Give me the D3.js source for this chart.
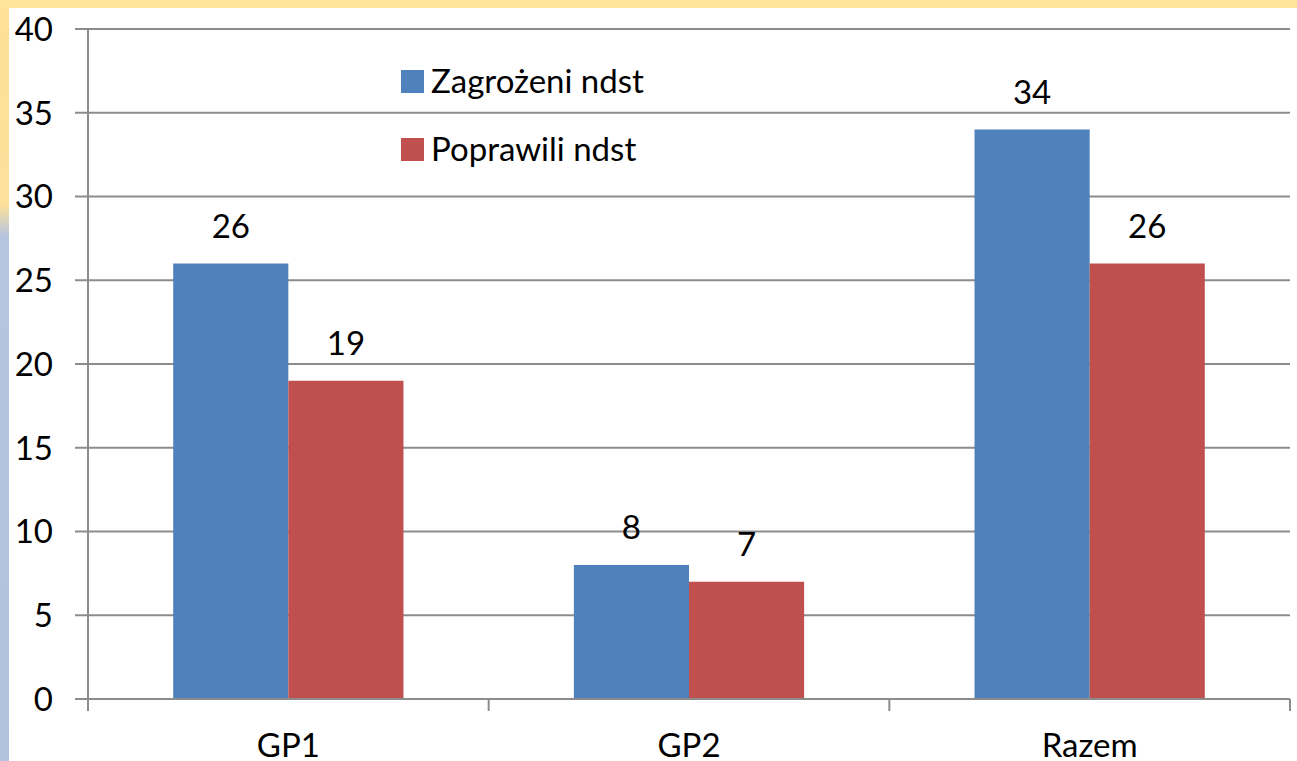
<!DOCTYPE html>
<html><head><meta charset="utf-8">
<script src="https://cdn.jsdelivr.net/npm/d3@7/dist/d3.min.js"></script>
<style>body{margin:0;overflow:hidden;background:#fff}</style>
</head><body>
<svg id="c" width="1297" height="761"></svg>
<script>
const categories = ["GP1", "GP2", "Razem"];
const seriesNames = ["Zagrożeni ndst", "Poprawili ndst"];
const zagrozeni = [26, 8, 34];
const poprawili = [19, 7, 26];
const yTicks = [0, 5, 10, 15, 20, 25, 30, 35, 40];
const colors = ["#4F81BD", "#C0504D"];

const svg = d3.select("#c");
const W = 1297, H = 761;
const font = "Lato, 'Open Sans', sans-serif";
const fs = 33;

// background frame
const defs = svg.append("defs");
const g1 = defs.append("linearGradient").attr("id","lg").attr("x1",0).attr("y1",0).attr("x2",0).attr("y2",1);
g1.append("stop").attr("offset","0%").attr("stop-color","#FEE196");
g1.append("stop").attr("offset","27%").attr("stop-color","#FCE09C");
g1.append("stop").attr("offset","31%").attr("stop-color","#B6C5DF");
g1.append("stop").attr("offset","100%").attr("stop-color","#AFC3DF");
svg.append("rect").attr("x",0).attr("y",0).attr("width",W).attr("height",H).attr("fill","url(#lg)");
svg.append("rect").attr("x",0).attr("y",0).attr("width",W).attr("height",9).attr("fill","#FEE59A");
svg.append("rect").attr("x",9).attr("y",8).attr("width",W-9).attr("height",H-8).attr("fill","#fff");

const x0 = 88, x1 = 1290, yTop = 29, yBot = 699;
const y = d3.scaleLinear().domain([0, 40]).range([yBot, yTop]);
const xb = d3.scaleBand().domain(categories).range([x0, x1]).paddingInner(0).paddingOuter(0);
const xs = d3.scaleBand().domain(seriesNames).range([0, xb.bandwidth()]).paddingInner(0).paddingOuter(0.74);

// gridlines
svg.append("g").selectAll("line").data(yTicks).join("line")
  .attr("x1", x0 - 13).attr("x2", x1).attr("y1", d => y(d)).attr("y2", d => y(d))
  .attr("stroke", "#8c8c8c").attr("stroke-width", 2);

// y-axis line
svg.append("line").attr("x1", x0).attr("x2", x0).attr("y1", yTop).attr("y2", yBot + 12)
  .attr("stroke", "#8c8c8c").attr("stroke-width", 2);

// y tick labels
svg.append("g").selectAll("text").data(yTicks).join("text")
  .attr("x", 53).attr("y", d => y(d)).attr("dy", "0.36em").attr("text-anchor", "end")
  .attr("font-family", font).attr("font-size", fs).attr("fill", "#000").text(d => d);

// bars
const data = categories.map((c, i) => ({cat: c, vals: [zagrozeni[i], poprawili[i]]}));
const grp = svg.append("g").selectAll("g").data(data).join("g")
  .attr("transform", d => `translate(${xb(d.cat)},0)`);
grp.selectAll("rect").data(d => d.vals.map((v, j) => ({v, s: seriesNames[j], j})))
  .join("rect")
  .attr("x", d => xs(d.s)).attr("width", xs.bandwidth())
  .attr("y", d => y(d.v)).attr("height", d => y(0) - y(d.v))
  .attr("fill", d => colors[d.j]);
grp.selectAll("text").data(d => d.vals.map((v, j) => ({v, s: seriesNames[j], j})))
  .join("text")
  .attr("x", d => xs(d.s) + xs.bandwidth() / 2).attr("y", d => y(d.v) - 26)
  .attr("text-anchor", "middle").attr("font-family", font).attr("font-size", fs)
  .attr("fill", "#000").text(d => d.v);

// x axis line & ticks
svg.append("line").attr("x1", x0 - 13).attr("x2", x1).attr("y1", yBot).attr("y2", yBot)
  .attr("stroke", "#8c8c8c").attr("stroke-width", 2);
const tickXs = categories.map(c => xb(c)).concat([x1]);
svg.append("g").selectAll("line").data(tickXs).join("line")
  .attr("x1", d => d).attr("x2", d => d).attr("y1", yBot).attr("y2", yBot + 12)
  .attr("stroke", "#8c8c8c").attr("stroke-width", 2);

// category labels
svg.append("g").selectAll("text").data(categories).join("text")
  .attr("x", d => xb(d) + xb.bandwidth() / 2).attr("y", 757)
  .attr("text-anchor", "middle").attr("font-family", font).attr("font-size", fs)
  .attr("fill", "#000").text(d => d);

// legend
const leg = svg.append("g").selectAll("g").data(seriesNames).join("g")
  .attr("transform", (d, i) => `translate(401, ${81 + i * 68})`);
leg.append("rect").attr("x", 0).attr("y", -11).attr("width", 23).attr("height", 23)
  .attr("fill", (d, i) => colors[i]);
leg.append("text").attr("x", 30).attr("y", 0).attr("dy", "0.36em")
  .attr("font-family", font).attr("font-size", fs).attr("fill", "#000").text(d => d);
</script>
</body></html>
